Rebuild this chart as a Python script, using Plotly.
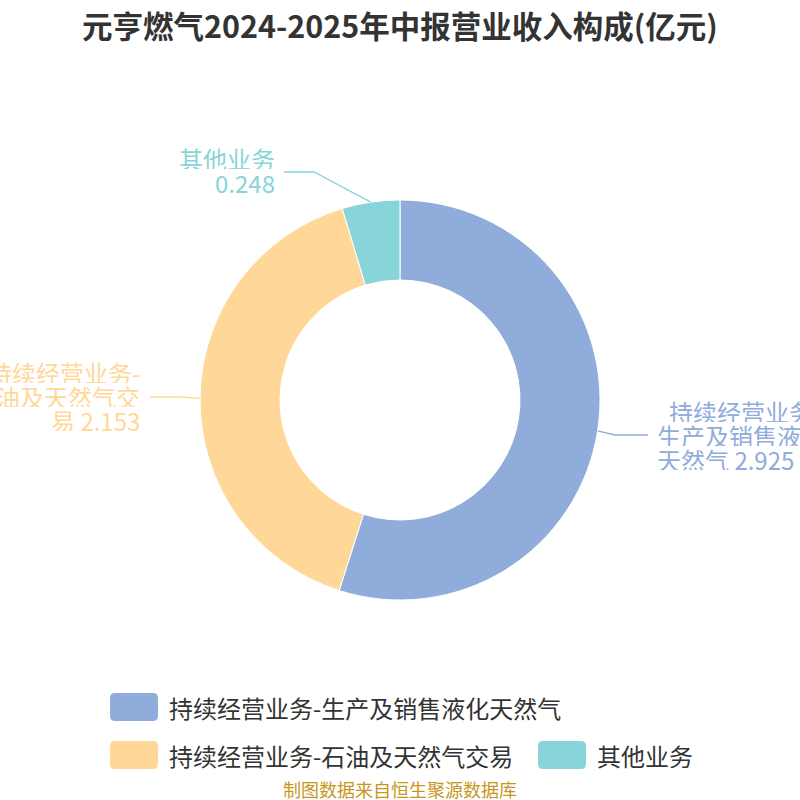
import math
import plotly.graph_objects as go

# ---- data ----
categories = ["持续经营业务-生产及销售液化天然气", "持续经营业务-石油及天然气交易", "其他业务"]
values = [2.925, 2.153, 0.248]
label_lines = [
    ["\u2002持续经营业务-", "生产及销售液化", "天然气 2.925"],
    ["持续经营业务-", "石油及天然气交", "易 2.153"],
    ["其他业务", "0.248"],
]
colors = ["#8FACDB", "#FFD899", "#87D5D8"]
title = "元亨燃气2024-2025年中报营业收入构成(亿元)"
source = "制图数据来自恒生聚源数据库"

W, H = 800, 800
CX, CY, R = 400, 400, 200
FONT = "Microsoft YaHei, Noto Sans CJK SC, sans-serif"
LH = 24.3

def px(x):
    return x / W

def py(y):
    return 1 - y / H

fig = go.Figure(go.Pie(
    labels=categories, values=values, sort=False, direction="clockwise",
    hole=0.6, marker=dict(colors=colors, line=dict(color="white", width=1)),
    textinfo="none", hoverinfo="label+value+percent", showlegend=False,
    domain=dict(x=[0.25, 0.75], y=[0.25, 0.75]),
))

# label-line layout (elbow point, end x, text anchor, text center y)
label_layout = [
    dict(elbow=(615, 435), end_x=648, text_x=656, side="left", ty=435),
    dict(elbow=(182, 397), end_x=150, text_x=141, side="right", ty=396),
    dict(elbow=(314, 172), end_x=284, text_x=276, side="right", ty=170),
]

shapes = []
annotations = []
total = sum(values)
cum = 0
for i, v in enumerate(values):
    mid = (cum + v / 2) / total * 2 * math.pi
    cum += v
    ax = CX + R * math.sin(mid)
    ay = CY - R * math.cos(mid)
    lay = label_layout[i]
    ex, ey = lay["elbow"]
    path = f"M {px(ax)},{py(ay)} L {px(ex)},{py(ey)} L {px(lay['end_x'])},{py(ey)}"
    shapes.append(dict(type="path", xref="paper", yref="paper", path=path,
                       line=dict(color=colors[i], width=1.3)))
    lines = label_lines[i]
    n = len(lines)
    for k, t in enumerate(lines):
        yy = lay["ty"] + (k - (n - 1) / 2) * LH
        annotations.append(dict(
            xref="paper", yref="paper", x=px(lay["text_x"]), y=py(yy),
            xanchor=lay["side"], yanchor="middle", showarrow=False, text=t,
            height=22, borderpad=0,
            font=dict(size=24, color=colors[i], family=FONT),
        ))

# custom legend
legend_items = [
    (0, 110, 707),
    (1, 110, 755),
    (2, 538, 755),
]
for idx, lx, ly in legend_items:
    x0, x1, y0, y1 = lx, lx + 48, ly - 14, ly + 14
    r = 5
    path = (f"M {px(x0+r)},{py(y0)} L {px(x1-r)},{py(y0)} Q {px(x1)},{py(y0)} {px(x1)},{py(y0+r)} "
            f"L {px(x1)},{py(y1-r)} Q {px(x1)},{py(y1)} {px(x1-r)},{py(y1)} "
            f"L {px(x0+r)},{py(y1)} Q {px(x0)},{py(y1)} {px(x0)},{py(y1-r)} "
            f"L {px(x0)},{py(y0+r)} Q {px(x0)},{py(y0)} {px(x0+r)},{py(y0)} Z")
    shapes.append(dict(type="path", xref="paper", yref="paper", path=path,
                       fillcolor=colors[idx], line=dict(width=0)))
    annotations.append(dict(
        xref="paper", yref="paper", x=px(x1 + 9), y=py(ly), xanchor="left", yanchor="middle",
        showarrow=False, text=categories[idx],
        font=dict(size=24, color="#333333", family=FONT),
    ))

annotations.append(dict(
    xref="paper", yref="paper", x=0.5, y=py(789), xanchor="center", yanchor="middle",
    showarrow=False, text=source, font=dict(size=18, color="#C8961E", family=FONT),
))
annotations.append(dict(
    xref="paper", yref="paper", x=0.5, y=py(25), xanchor="center", yanchor="middle",
    showarrow=False, text=f"<b>{title}</b>", font=dict(size=30.5, color="#333333", family=FONT),
))

fig.update_layout(
    width=W, height=H, margin=dict(l=0, r=0, t=0, b=0),
    paper_bgcolor="white", plot_bgcolor="white",
    shapes=shapes, annotations=annotations, showlegend=False,
)

fig.write_html("out.html", config={"displayModeBar": False},
               post_script="document.body.style.margin='0';")
